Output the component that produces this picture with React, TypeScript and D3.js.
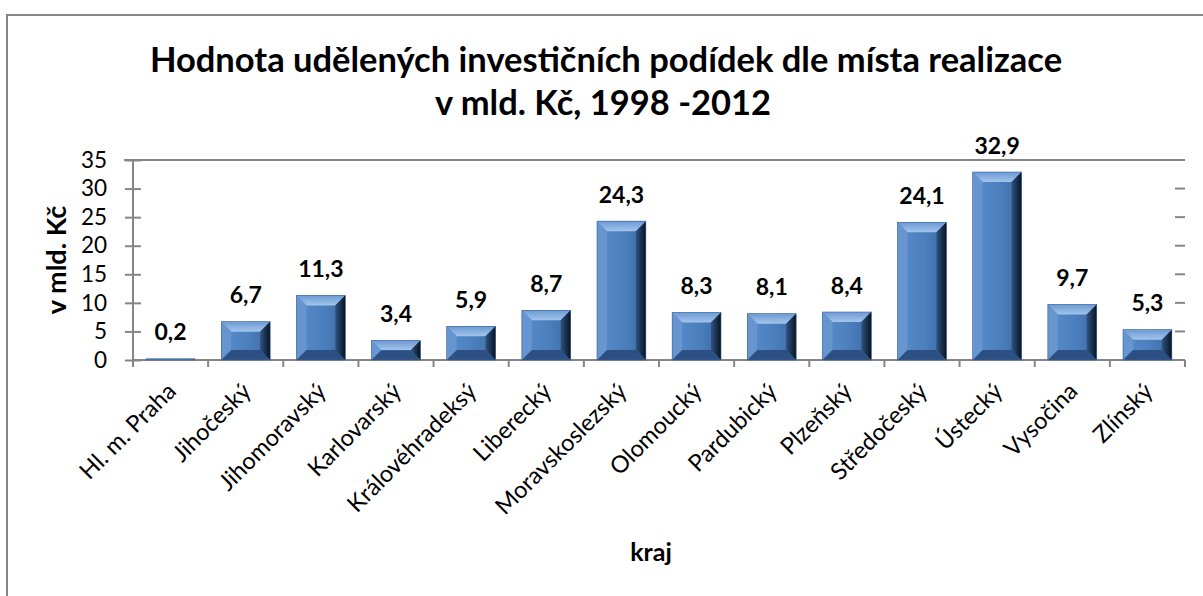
import React, { useEffect, useRef } from 'react';
import * as d3 from 'd3';

const categories = ['Hl. m. Praha', 'Jihočeský', 'Jihomoravský', 'Karlovarský', 'Královéhradeksý', 'Liberecký', 'Moravskoslezský', 'Olomoucký', 'Pardubický', 'Plzeňský', 'Středočeský', 'Ústecký', 'Vysočina', 'Zlínský'];
const values = [0.2, 6.7, 11.3, 3.4, 5.9, 8.7, 24.3, 8.3, 8.1, 8.4, 24.1, 32.9, 9.7, 5.3];
const yTicks = [0, 5, 10, 15, 20, 25, 30, 35];
const titleLines = ['Hodnota udělených investičních podídek dle místa realizace', 'v mld. Kč, 1998 -2012'];
const yTitle = 'v mld. Kč';
const xTitle = 'kraj';

const App = () => {
    const ref = useRef<SVGSVGElement>(null);

    const graph = () => {
        const svg = d3.select(ref.current);
        svg.selectAll('*').remove();

        const width = 1203, height = 596;
        const margin = { top: 160, right: 18, bottom: 236, left: 133 };
        const font = 'Lato, Carlito, Calibri, sans-serif';
        const axisColor = '#868686';

        const x = d3.scaleBand<string>().domain(categories)
            .range([margin.left, width - margin.right])
            .paddingInner(0.35).paddingOuter(0.175);
        const y = d3.scaleLinear().domain([0, 35]).range([height - margin.bottom, margin.top]);
        const step = x.step();

        // gradients for the bevelled bars
        const defs = svg.append('defs');
        const body = defs.append('linearGradient').attr('id', 'barBody').attr('x1', 0).attr('x2', 1).attr('y1', 0).attr('y2', 0);
        body.append('stop').attr('offset', '0%').attr('stop-color', '#5a8ccb');
        body.append('stop').attr('offset', '55%').attr('stop-color', '#4c7fbd');
        body.append('stop').attr('offset', '100%').attr('stop-color', '#3b6aa3');
        const right = defs.append('linearGradient').attr('id', 'barRight').attr('x1', 0).attr('x2', 1).attr('y1', 0).attr('y2', 0);
        right.append('stop').attr('offset', '0%').attr('stop-color', '#2e5382');
        right.append('stop').attr('offset', '100%').attr('stop-color', '#0a1320');
        const top = defs.append('linearGradient').attr('id', 'barTop').attr('x1', 0).attr('x2', 0).attr('y1', 0).attr('y2', 1);
        top.append('stop').attr('offset', '0%').attr('stop-color', '#6c9ad4');
        top.append('stop').attr('offset', '100%').attr('stop-color', '#a3c4ec');

        // outer border
        svg.append('rect').attr('x', 7).attr('y', 15).attr('width', width + 20).attr('height', height + 20)
            .attr('fill', 'white').attr('stroke', '#878787').attr('stroke-width', 2);

        // title
        svg.append('text').attr('x', 606).attr('y', 72)
            .attr('text-anchor', 'middle').style('font-family', font).style('font-weight', 700).style('font-size', '34.5px')
            .text(titleLines[0]);
        svg.append('text').attr('x', 603).attr('y', 115)
            .attr('text-anchor', 'middle').style('font-family', font).style('font-weight', 700).style('font-size', '34.5px')
            .text(titleLines[1]);

        // top back edge and right ticks
        svg.append('line').attr('x1', margin.left - 9).attr('x2', width - margin.right)
            .attr('y1', y(35)).attr('y2', y(35)).attr('stroke', axisColor).attr('stroke-width', 2);
        svg.append('g').selectAll('line').data(yTicks.slice(1, -1)).enter().append('line')
            .attr('x1', width - margin.right - 10).attr('x2', width - margin.right)
            .attr('y1', d => y(d)).attr('y2', d => y(d)).attr('stroke', axisColor).attr('stroke-width', 2);

        // y axis
        const yAxis = svg.append('g').attr('transform', `translate(${margin.left}, 0)`)
            .call(d3.axisLeft(y).tickValues(yTicks).tickSizeInner(0).tickSizeOuter(0).tickPadding(26));
        yAxis.select('.domain').attr('stroke', axisColor).attr('stroke-width', 2)
            .attr('d', `M0,${y(35)}V${y(0) + 3}`);
        yAxis.selectAll('.tick text').style('font-family', font).style('font-size', '22.5px').attr('fill', '#000');
        yAxis.selectAll('.tick').append('line').attr('x1', -8).attr('x2', 8).attr('stroke', axisColor).attr('stroke-width', 2);

        // x axis
        svg.append('line').attr('x1', margin.left).attr('x2', width - margin.right)
            .attr('y1', y(0)).attr('y2', y(0)).attr('stroke', axisColor).attr('stroke-width', 2);
        const bounds = categories.map(c => (x(c) as number) - step * 0.175).concat([width - margin.right]);
        svg.append('g').selectAll('line').data(bounds).enter().append('line')
            .attr('x1', d => d).attr('x2', d => d).attr('y1', y(0)).attr('y2', y(0) + 7)
            .attr('stroke', axisColor).attr('stroke-width', 2);

        svg.append('g').selectAll('text').data(categories).enter().append('text')
            .attr('transform', d => `translate(${(x(d) as number) + x.bandwidth() / 2 + 1}, ${y(0) + 27}) rotate(-45)`)
            .attr('text-anchor', 'end').attr('dy', '0.35em')
            .style('font-family', font).style('font-size', '23.5px')
            .text(d => d);

        // axis titles
        svg.append('text').attr('transform', `translate(66, ${(y(0) + y(35)) / 2}) rotate(-90)`)
            .attr('text-anchor', 'middle').style('font-family', font).style('font-weight', 700).style('font-size', '27px')
            .text(yTitle);
        svg.append('text').attr('x', 651).attr('y', 561)
            .attr('text-anchor', 'middle').style('font-family', font).style('font-weight', 700).style('font-size', '25px')
            .text(xTitle);

        // bars
        const bars = svg.append('g').selectAll('g.bar').data(values).enter().append('g').attr('class', 'bar');
        bars.each(function (v, i) {
            const g = d3.select(this);
            const bx = x(categories[i]) as number;
            const bw = x.bandwidth();
            const by = y(v);
            const bh = y(0) - by;
            const b = Math.min(10, bh / 2, bw / 2);
            g.append('rect').attr('x', bx).attr('y', by).attr('width', bw).attr('height', bh).attr('fill', 'url(#barBody)');
            g.append('polygon').attr('fill', 'url(#barTop)')
                .attr('points', `${bx},${by} ${bx + bw},${by} ${bx + bw - b},${by + b} ${bx + b},${by + b}`);
            g.append('polygon').attr('fill', '#6695d0')
                .attr('points', `${bx},${by} ${bx + b},${by + b} ${bx + b},${by + bh - b} ${bx},${by + bh}`);
            g.append('polygon').attr('fill', 'url(#barRight)')
                .attr('points', `${bx + bw},${by} ${bx + bw},${by + bh} ${bx + bw - b},${by + bh - b} ${bx + bw - b},${by + b}`);
            g.append('polygon').attr('fill', '#2c5083')
                .attr('points', `${bx},${by + bh} ${bx + b},${by + bh - b} ${bx + bw - b},${by + bh - b} ${bx + bw},${by + bh}`);
            g.append('rect').attr('x', bx).attr('y', by).attr('width', bw).attr('height', bh)
                .attr('fill', 'none').attr('stroke', '#3c6494').attr('stroke-width', 0.6);
        });

        // value labels
        svg.append('g').selectAll('text').data(values).enter().append('text')
            .attr('x', (d, i) => (x(categories[i]) as number) + x.bandwidth() / 2)
            .attr('y', d => y(d) - 18.5)
            .attr('text-anchor', 'middle')
            .style('font-family', font).style('font-weight', 700).style('font-size', '23px')
            .text(d => d3.format('.1f')(d).replace('.', ','));
    };

    useEffect(() => graph());
    return (
        <div style={{ position: 'absolute', left: 0, top: 0 }}>
            <svg ref={ref} width="1203" height="596" style={{ display: 'block' }}></svg>
        </div>
    );
};

export default App;
